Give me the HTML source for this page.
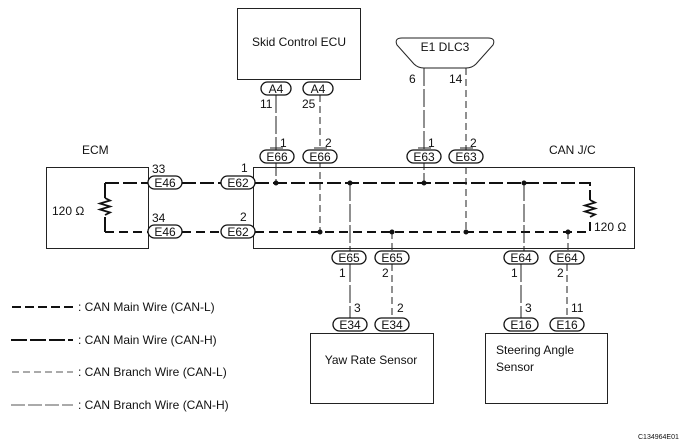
<!DOCTYPE html>
<html><head><meta charset="utf-8"><style>
html,body{margin:0;padding:0;background:#fff;}
svg{display:block;}
text{font-family:"Liberation Sans",Arial,sans-serif;fill:#111;}
</style></head><body>
<svg width="685" height="446" viewBox="0 0 685 446" xmlns="http://www.w3.org/2000/svg">
<g fill="none" stroke="#222" stroke-width="1">
<rect x="237.5" y="8.5" width="123" height="71"/>
<rect x="46.5" y="167.5" width="102" height="81"/>
<rect x="253.5" y="167.5" width="381" height="81"/>
<rect x="310.5" y="333.5" width="123" height="70"/>
<rect x="485.5" y="333.5" width="122" height="70"/>
<path d="M402,38 L488,38 Q496,38 493,45 L476,64 Q472,68 466,68 L424,68 Q418,68 414,64 L397,45 Q394,38 402,38 Z"/>
</g>
<g fill="none" stroke="#111" stroke-width="2">
<path d="M105,183 H148 M182,183 H221 M255,183 H590 V200" stroke-dasharray="14,4"/>
<path d="M105,232 H148 M182,232 H221 M255,232 H590 V218" stroke-dasharray="9,5"/>
<path d="M105,183 V198 M105,217 V232"/>
<path d="M105,198 l5,2.5 l-10,3 l10,3 l-10,3 l10,3 l-5,2.5" stroke-width="1.8"/>
<path d="M590,200 l5,2.5 l-10,3 l10,3 l-10,3 l10,3 l-5,2.5" stroke-width="1.8"/>
</g>
<g fill="none" stroke="#222" stroke-width="1">
<path d="M276,95 V183 M424,68 V183 M350,183 V251 M524,183 V251 M350,264 V318 M521,264 V318" stroke-dasharray="18,3"/>
<path d="M320,95 V232 M466,68 V232 M392,232 V251 M568,232 V251 M392,264 V318 M567,264 V318" stroke-dasharray="7,4"/>
<path d="M270,148 H283 M314,148 H327 M418,148 H431 M460,148 H473"/>
</g>
<g fill="#111">
<circle cx="276" cy="183" r="2.5"/><circle cx="350" cy="183" r="2.5"/><circle cx="424" cy="183" r="2.5"/><circle cx="524" cy="183" r="2.5"/>
<circle cx="320" cy="232" r="2.5"/><circle cx="392" cy="232" r="2.5"/><circle cx="466" cy="232" r="2.5"/><circle cx="568" cy="232" r="2.5"/>
</g>
<g fill="#fff" stroke="#111" stroke-width="1.3">
<rect x="261" y="82" width="30" height="13" rx="6.5"/><rect x="303" y="82" width="30" height="13" rx="6.5"/>
<rect x="260" y="150" width="34" height="13" rx="6.5"/><rect x="303" y="150" width="34" height="13" rx="6.5"/>
<rect x="407" y="150" width="34" height="13" rx="6.5"/><rect x="449" y="150" width="34" height="13" rx="6.5"/>
<rect x="148" y="176" width="34" height="13" rx="6.5"/><rect x="148" y="225" width="34" height="13" rx="6.5"/>
<rect x="221" y="176" width="34" height="13" rx="6.5"/><rect x="221" y="225" width="34" height="13" rx="6.5"/>
<rect x="332" y="251" width="34" height="13" rx="6.5"/><rect x="375" y="251" width="34" height="13" rx="6.5"/>
<rect x="504" y="251" width="34" height="13" rx="6.5"/><rect x="550" y="251" width="34" height="13" rx="6.5"/>
<rect x="333" y="318" width="34" height="13" rx="6.5"/><rect x="375" y="318" width="34" height="13" rx="6.5"/>
<rect x="504" y="318" width="34" height="13" rx="6.5"/><rect x="550" y="318" width="34" height="13" rx="6.5"/>
</g>
<g font-size="12" text-anchor="middle">
<text x="276" y="93">A4</text><text x="318" y="93">A4</text>
<text x="277" y="161">E66</text><text x="320" y="161">E66</text>
<text x="424" y="161">E63</text><text x="466" y="161">E63</text>
<text x="165" y="187">E46</text><text x="165" y="236">E46</text>
<text x="238" y="187">E62</text><text x="238" y="236">E62</text>
<text x="349" y="262">E65</text><text x="392" y="262">E65</text>
<text x="521" y="262">E64</text><text x="567" y="262">E64</text>
<text x="350" y="329">E34</text><text x="392" y="329">E34</text>
<text x="521" y="329">E16</text><text x="567" y="329">E16</text>
</g>
<g font-size="12">
<text x="299" y="46" text-anchor="middle">Skid Control ECU</text>
<text x="445" y="51" text-anchor="middle">E1  DLC3</text>
<text x="82" y="154">ECM</text>
<text x="549" y="154">CAN J/C</text>
<text x="52" y="215">120 Ω</text>
<text x="594" y="231">120 Ω</text>
<text x="371" y="364" text-anchor="middle">Yaw Rate Sensor</text>
<text x="496" y="354">Steering Angle</text>
<text x="496" y="371">Sensor</text>
<text x="260" y="108">11</text><text x="302" y="108">25</text>
<text x="280" y="147">1</text><text x="325" y="147">2</text>
<text x="409" y="83">6</text><text x="449" y="83">14</text>
<text x="428" y="147">1</text><text x="470" y="147">2</text>
<text x="152" y="173">33</text><text x="152" y="222">34</text>
<text x="241" y="172">1</text><text x="240" y="221">2</text>
<text x="339" y="277">1</text><text x="382" y="277">2</text>
<text x="354" y="312">3</text><text x="397" y="312">2</text>
<text x="511" y="277">1</text><text x="557" y="277">2</text>
<text x="525" y="312">3</text><text x="571" y="312">11</text>
</g>
<g fill="none">
<path d="M12,307 H73" stroke="#111" stroke-width="2" stroke-dasharray="9,4"/>
<path d="M11,340 H73" stroke="#111" stroke-width="2" stroke-dasharray="16,3"/>
<path d="M12,372 H73" stroke="#555" stroke-width="1" stroke-dasharray="7,4"/>
<path d="M11,405 H73" stroke="#555" stroke-width="1" stroke-dasharray="14,3"/>
</g>
<g font-size="12">
<text x="78" y="311">: CAN Main Wire (CAN-L)</text>
<text x="78" y="344">: CAN Main Wire (CAN-H)</text>
<text x="78" y="376">: CAN Branch Wire (CAN-L)</text>
<text x="78" y="409">: CAN Branch Wire (CAN-H)</text>
</g>
<text x="638" y="439" font-size="7">C134964E01</text>
</svg>
</body></html>
